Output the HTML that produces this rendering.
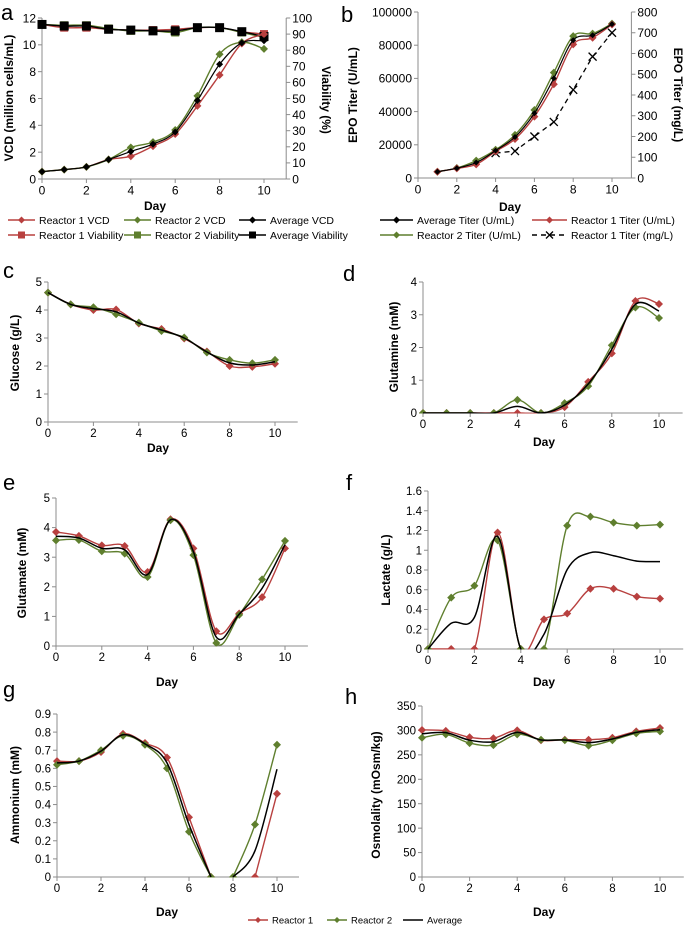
<!DOCTYPE html>
<html><head><meta charset="utf-8">
<style>
html,body{margin:0;padding:0;background:#fff;}
svg{display:block;font-family:"Liberation Sans",sans-serif;}
</style></head>
<body>
<svg id="fig" width="685" height="927" viewBox="0 0 685 927" xmlns="http://www.w3.org/2000/svg"></svg>
<script>
// ---- data ----
const days = [0,1,2,3,4,5,6,7,8,9,10];
const daysB = [1,2,3,4,5,6,7,8,9,10];
const daysBmg = [4,5,6,7,8,9,10];
const vcdR1 = [0.55,0.7,0.9,1.45,1.7,2.45,3.35,5.45,7.75,10.1,10.8];
const vcdR2 = [0.55,0.7,0.9,1.45,2.35,2.75,3.65,6.2,9.3,10.2,9.7];
const vcdAvg = [0.55,0.7,0.9,1.45,2.05,2.6,3.5,5.85,8.55,10.15,10.3];
const viaR1 = [96,94,94,93,92.5,92.5,93,94,94,91.5,90];
const viaR2 = [96,95.5,95.5,93.5,92,92,91,94,94,91,88];
const viaAvg = [96,95,95,93,92.5,92,92,94,94,91.5,88.5];
const titerR1 = [3800,5800,8200,16000,23500,37000,56500,80500,84500,92500];
const titerR2 = [3800,6000,10500,17000,26000,41000,63500,85500,87000,93000];
const titerAvg = [3800,5900,9300,16500,24700,39000,60000,83000,86000,92700];
const titerMg = [120,130,200,270,425,585,700];
const glcR1 = [4.62,4.2,4.0,4.02,3.52,3.32,2.98,2.52,2.0,1.97,2.08];
const glcR2 = [4.62,4.2,4.1,3.85,3.55,3.25,3.02,2.48,2.22,2.1,2.22];
const glnR1 = [0,0,0,0,0,0,0.18,0.95,1.82,3.42,3.33];
const glnR2 = [0,0,0,0,0.4,0,0.3,0.82,2.07,3.22,2.9];
const gluR1 = [3.85,3.72,3.4,3.38,2.5,4.28,3.3,0.5,1.1,1.65,3.3];
const gluR2 = [3.57,3.58,3.2,3.12,2.33,4.25,3.07,0.1,1.05,2.25,3.55];
const lacR1 = [0,0,0,1.18,0,0.3,0.36,0.61,0.61,0.53,0.51];
const lacR2 = [0,0.52,0.64,1.1,0,0,1.25,1.34,1.28,1.25,1.26];
const ammR1 = [0.64,0.64,0.69,0.79,0.74,0.66,0.33,0,null,0,0.46];
const ammR2 = [0.62,0.64,0.70,0.78,0.73,0.60,0.25,0,0,0.29,0.73];
const ammBreaks = [7];
const osmR1 = [301,299,286,284,300,280,281,281,285,298,305];
const osmR2 = [285,292,274,270,292,281,280,269,280,294,298];
const xTicks = [0,2,4,6,8,10];

const RED = "#b8403f", GREEN = "#5f7f2e", BLACK = "#000", AX = "#8c8c8c";
const NS = "http://www.w3.org/2000/svg";
const svg = document.getElementById('fig');
function el(tag, attrs, parent, text){
  const e = document.createElementNS(NS, tag);
  for (const k in attrs) e.setAttribute(k, attrs[k]);
  if (text !== undefined) e.textContent = text;
  (parent || svg).appendChild(e);
  return e;
}
const avgOf = (a,b)=>a.map((v,i)=> (v==null&&b[i]==null)?null : (v==null? b[i] : (b[i]==null? v : (v+b[i])/2)));

function smoothPath(pts){
  if (pts.length < 2) return "";
  let d = "M"+pts[0][0].toFixed(1)+","+pts[0][1].toFixed(1);
  for (let i=0;i<pts.length-1;i++){
    const p0 = pts[i-1]||pts[i], p1 = pts[i], p2 = pts[i+1], p3 = pts[i+2]||pts[i+1];
    const c1 = [p1[0]+(p2[0]-p0[0])/6, p1[1]+(p2[1]-p0[1])/6];
    const c2 = [p2[0]-(p3[0]-p1[0])/6, p2[1]-(p3[1]-p1[1])/6];
    d += " C"+c1[0].toFixed(1)+","+c1[1].toFixed(1)+" "+c2[0].toFixed(1)+","+c2[1].toFixed(1)+" "+p2[0].toFixed(1)+","+p2[1].toFixed(1);
  }
  return d;
}
function segments(xs, ys, breaks){
  const segs=[]; let cur=[];
  xs.forEach((x,i)=>{
    if (ys[i]==null){ if(cur.length) segs.push(cur); cur=[]; return; }
    cur.push([x,ys[i]]);
    if (breaks && breaks.indexOf(x)>=0){ segs.push(cur); cur=[]; }
  });
  if (cur.length) segs.push(cur);
  return segs;
}
function marker(g, shape, x, y, color, s){
  let m;
  if (shape==='diamond') m = el('polygon',{points:`${x},${y-s} ${x+s},${y} ${x},${y+s} ${x-s},${y}`, fill:color}, g);
  else if (shape==='square') m = el('rect',{x:x-s,y:y-s,width:2*s,height:2*s,fill:color}, g);
  else if (shape==='x') { m = el('path',{d:`M${x-s},${y-s}L${x+s},${y+s}M${x-s},${y+s}L${x+s},${y-s}`,stroke:color,'stroke-width':1.3}, g); }
  return m;
}

let clipId = 0;
function panel(cfg){
  const g = el('g', {});
  
  
  const xs = d => cfg.x0 + d*cfg.dx;
  const ys = v => cfg.y0 - (v/cfg.ymax)*(cfg.y0-cfg.ytop);
  const ys2 = cfg.ymax2 ? (v => cfg.y0 - (v/cfg.ymax2)*(cfg.y0-cfg.ytop)) : null;
  const xEnd = cfg.x0 + 11*cfg.dx;
  const fs = cfg.fs;
  const L = el('text',{x:cfg.letter[0], y:cfg.letter[1], 'font-size':cfg.letterSize||22, fill:'#000'}, g, cfg.letterText);
  
  
  const ax = el('g',{stroke:AX,'stroke-width':1,fill:'none'}, g);
  
  
  el('line',{x1:cfg.x0,y1:cfg.ytop,x2:cfg.x0,y2:cfg.y0}, ax);
  el('line',{x1:cfg.x0,y1:cfg.y0,x2:xEnd,y2:cfg.y0}, ax);
  if (ys2) el('line',{x1:xEnd,y1:cfg.ytop,x2:xEnd,y2:cfg.y0}, ax);
  for (let v=0; v<=cfg.ymax+1e-9; v+=cfg.ystep){
    const y = ys(v);
    el('line',{x1:cfg.x0-4,y1:y,x2:cfg.x0,y2:y}, ax);
    const t = el('text',{x:cfg.x0-6,y:y+fs*0.36,'font-size':fs,'text-anchor':'end',fill:'#000'}, g, String(+v.toFixed(2)));
    
    
  }
  if (ys2){
    for (let v=0; v<=cfg.ymax2+1e-9; v+=cfg.ystep2){
      const y = ys2(v);
      el('line',{x1:xEnd,y1:y,x2:xEnd+4,y2:y}, ax);
      const t = el('text',{x:xEnd+6,y:y+fs*0.36,'font-size':fs,'text-anchor':'start',fill:'#000'}, g, String(v));
      
      
    }
  }
  xTicks.forEach(d=>{
    const x = xs(d);
    el('line',{x1:x,y1:cfg.y0,x2:x,y2:cfg.y0+4}, ax);
    const t = el('text',{x:x,y:cfg.y0+6+fs*0.8,'font-size':fs,'text-anchor':'middle',fill:'#000'}, g, String(d));
    
    
  });
  const xt = el('text',{x:cfg.dayPos[0],y:cfg.dayPos[1],'font-size':cfg.tfs,'font-weight':'bold','text-anchor':'middle'}, g, 'Day');
  
  
  const yt = el('text',{transform:`translate(${cfg.ytitle[0]},${cfg.ytitle[1]}) rotate(-90)`,'font-size':cfg.tfs,'font-weight':'bold','text-anchor':'middle'}, g, cfg.ytitleText);
  
  
  if (cfg.y2title){
    const yt2 = el('text',{transform:`translate(${cfg.y2title[0]},${cfg.y2title[1]}) rotate(90)`,'font-size':cfg.tfs,'font-weight':'bold','text-anchor':'middle'}, g, cfg.y2titleText);
    
    
  }
  const cid = 'clip'+(clipId++);
  const cp = el('clipPath',{id:cid}, g);
  el('rect',{x:cfg.x0-8,y:0,width:xEnd-cfg.x0+16,height:cfg.y0+0.5}, cp);
  const plot = el('g',{'clip-path':`url(#${cid})`}, g);
  cfg.series.forEach(s=>{
    const sg = el('g',{}, plot);
    
    
    const sc = s.axis2 ? ys2 : ys;
    segments(s.x, s.y, s.breaks).forEach(seg=>{
      const pts = seg.map(p=>[xs(p[0]), sc(p[1])]);
      const d = s.straight ? "M"+pts.map(p=>p.join(',')).join('L') : smoothPath(pts);
      const p = el('path',{d:d,fill:'none',stroke:s.color,'stroke-width':s.w||1.4,'stroke-dasharray':s.dash||'none'}, sg);
      
      
    });
    if (s.marker){
      s.x.forEach((d,i)=>{
        if (s.y[i]==null) return;
        const m = marker(sg, s.marker, xs(d), sc(s.y[i]), s.color, s.ms||4);
        
        
      });
    }
  });
  return g;
}
function legend(items, fs){
  const g = el('g',{});
  
  
  items.forEach(it=>{
    const e = el('g',{}, g);
    
    
    el('line',{x1:it.x,y1:it.y,x2:it.x+it.len,y2:it.y,stroke:it.color,'stroke-width':1.5,'stroke-dasharray':it.dash||'none'}, e);
    if (it.marker) marker(e, it.marker, it.x+it.len/2, it.y, it.color, it.ms||3.5);
    el('text',{x:it.x+it.len+4,y:it.y+fs*0.36,'font-size':fs}, e, it.label);
  });
}

// ---- panel a ----
panel({name:'chart-a-vcd', letter:[1,20], letterText:'a', x0:42, dx:22.2, y0:179, ytop:18, ymax:12, ystep:2,
  ymax2:100, ystep2:10, fs:12, tfs:12, dayPos:[155,210], ytitle:[13,98], ytitleText:'VCD (million cells/mL)',
  y2title:[322,100], y2titleText:'Viability (%)',
  series:[
    {name:'reactor1-viability', x:days, y:viaR1, color:RED, marker:'square', ms:4, axis2:true},
    {name:'reactor2-viability', x:days, y:viaR2, color:GREEN, marker:'square', ms:4, axis2:true},
    {name:'average-viability', x:days, y:viaAvg, color:BLACK, marker:'square', ms:4.5, axis2:true},
    {name:'reactor1-vcd', x:days, y:vcdR1, color:RED, marker:'diamond', ms:4},
    {name:'reactor2-vcd', x:days, y:vcdR2, color:GREEN, marker:'diamond', ms:4},
    {name:'average-vcd', x:days, y:vcdAvg, color:BLACK, marker:'diamond', ms:3.5, w:1.2}
  ]});
legend([
  {x:8,y:220,len:27,color:RED,marker:'diamond',label:'Reactor 1 VCD'},
  {x:124,y:220,len:27,color:GREEN,marker:'diamond',label:'Reactor 2 VCD'},
  {x:239,y:220,len:27,color:BLACK,marker:'diamond',label:'Average VCD'},
  {x:8,y:235,len:27,color:RED,marker:'square',label:'Reactor 1 Viability'},
  {x:124,y:235,len:27,color:GREEN,marker:'square',label:'Reactor 2 Viability'},
  {x:239,y:235,len:27,color:BLACK,marker:'square',label:'Average Viability'}
], 10.5);

// ---- panel b ----
panel({name:'chart-b-titer', letter:[341,22], letterText:'b', x0:418, dx:19.4, y0:178, ytop:12, ymax:100000, ystep:20000,
  ymax2:800, ystep2:100, fs:12, tfs:12, dayPos:[510,211], ytitle:[357,95], ytitleText:'EPO Titer (U/mL)',
  y2title:[674,95], y2titleText:'EPO Titer (mg/L)',
  series:[
    {name:'reactor1-titer-mgl', x:daysBmg, y:titerMg, color:BLACK, marker:'x', ms:4, axis2:true, dash:'5,4', straight:true, w:1.3},
    {name:'reactor2-titer', x:daysB, y:titerR2, color:GREEN, marker:'diamond', ms:4},
    {name:'reactor1-titer', x:daysB, y:titerR1, color:RED, marker:'diamond', ms:4},
    {name:'average-titer', x:daysB, y:titerAvg, color:BLACK, marker:'diamond', ms:3, w:1.2}
  ]});
legend([
  {x:380,y:220,len:33,color:BLACK,marker:'diamond',label:'Average Titer (U/mL)'},
  {x:532,y:220,len:35,color:RED,marker:'diamond',label:'Reactor 1 Titer (U/mL)'},
  {x:380,y:235,len:33,color:GREEN,marker:'diamond',label:'Reactor 2 Titer (U/mL)'},
  {x:532,y:235,len:35,color:BLACK,marker:'x',dash:'5,4',label:'Reactor 1 Titer (mg/L)'}
], 10.5);

function std(name, letter, lt, x0, dx, y0, ytop, ymax, ystep, dayPos, ytitle, ytt, r1, r2, extra){
  const a = avgOf(r1, r2);
  const br = extra && extra.breaks;
  panel({name:name, letter:letter, letterText:lt, x0:x0, dx:dx, y0:y0, ytop:ytop, ymax:ymax, ystep:ystep,
    fs:11.5, tfs:12, dayPos:dayPos, ytitle:ytitle, ytitleText:ytt,
    series:[
      {name:'reactor1', x:days, y:r1, color:RED, marker:'diamond', ms:4, breaks:br},
      {name:'reactor2', x:days, y:r2, color:GREEN, marker:'diamond', ms:4, breaks:br},
      {name:'average', x:days, y:a, color:BLACK, w:1.5, breaks:br}
    ]});
}
std('chart-c-glucose',[3,278],'c',48,22.7,422,282,5,1,[158,452],[19,353],'Glucose (g/L)',glcR1,glcR2);
std('chart-d-glutamine',[343,281],'d',423,23.6,413,282,4,1,[544,446],[398,347],'Glutamine (mM)',glnR1,glnR2);
std('chart-e-glutamate',[3,490],'e',56,22.9,646,498,5,1,[167,686],[26,573],'Glutamate (mM)',gluR1,gluR2);
std('chart-f-lactate',[346,490],'f',428,23.2,649,491,1.6,0.2,[544,686],[390,570],'Lactate (g/L)',lacR1,lacR2);
std('chart-g-ammonium',[3,697],'g',57,22,877,714,0.9,0.1,[167,916],[19,795],'Ammonium (mM)',ammR1,ammR2,{breaks:ammBreaks});
std('chart-h-osmolality',[345,704],'h',422,23.8,877,706,350,50,[544,916],[380,795],'Osmolality (mOsm/kg)',osmR1,osmR2);

legend([
  {x:248,y:920,len:20,color:RED,marker:'diamond',ms:3,label:'Reactor 1'},
  {x:327,y:920,len:20,color:GREEN,marker:'diamond',ms:3,label:'Reactor 2'},
  {x:403,y:920,len:20,color:BLACK,label:'Average'}
], 9.5);
</script>
</body></html>
